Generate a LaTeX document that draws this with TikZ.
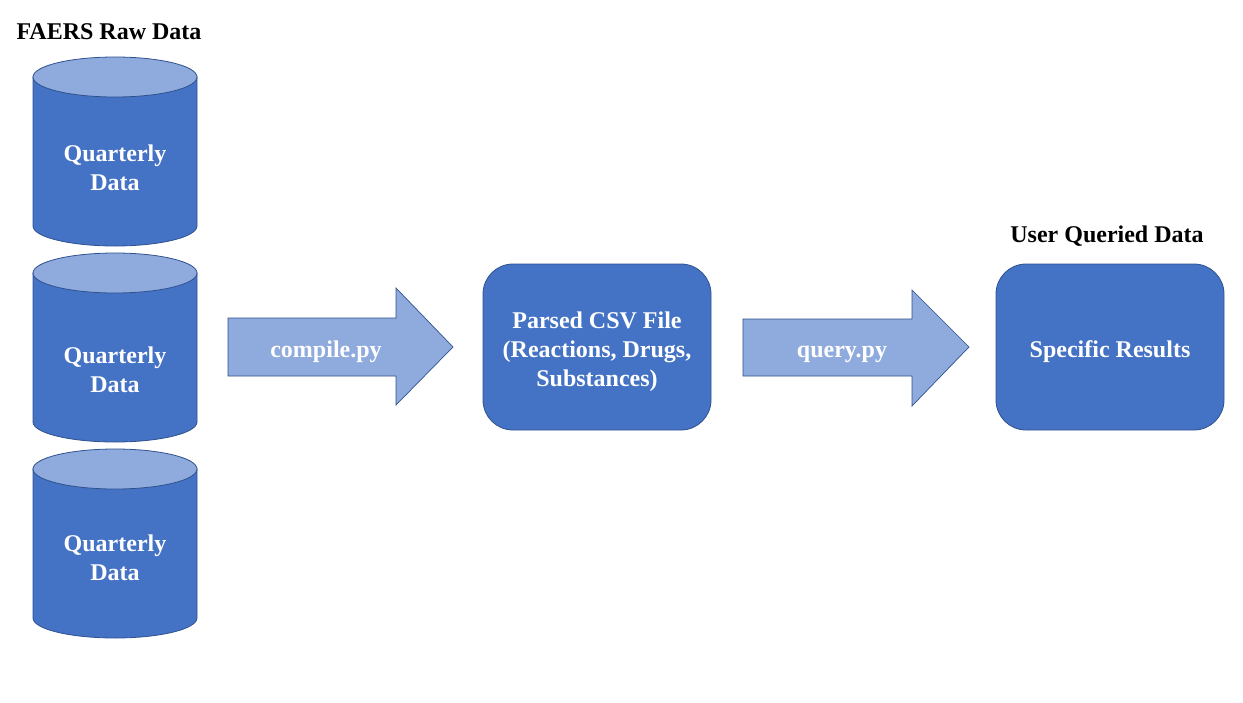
\documentclass[tikz,border=0pt]{standalone}
\usepackage{fontspec}
\setmainfont{Liberation Serif}
\definecolor{boxblue}{HTML}{4472C4}
\definecolor{lightblue}{HTML}{8FAADC}
\definecolor{edgeblue}{HTML}{2F528F}
\tikzset{
  txt/.style={font=\fontsize{24}{29}\selectfont\bfseries, text=white, align=center, inner sep=0pt},
  heading/.style={font=\fontsize{24}{29}\selectfont\bfseries, text=black, inner sep=0pt},
  cylbody/.style={fill=boxblue, draw=edgeblue, line width=0.8pt},
  cyltop/.style={fill=lightblue, draw=edgeblue, line width=0.8pt},
  blockarrow/.style={fill=lightblue, draw=edgeblue, line width=0.7pt, line join=miter},
  roundbox/.style={fill=boxblue, draw=edgeblue, line width=0.8pt, rounded corners=30pt,
     minimum width=228pt, minimum height=166pt}
}
\begin{document}
\begin{tikzpicture}[x=1pt,y=-1pt]
\useasboundingbox (0,0) rectangle (1243,702);
% headings
\node[heading] (h1) at (109,32) {FAERS Raw Data};
\node[heading] (h2) at (1107,236) {User Queried Data};
% cylinders
\foreach \ty/\cy/\nm in {77/168/q1,273/370/q2,469/558/q3}{
  \pgfmathsetmacro{\by}{\ty+149}
  \path[cylbody] (33,\ty) -- (33,\by) arc[start angle=180,end angle=360,x radius=82pt,y radius=20pt] -- (197,\ty) -- cycle;
  \path[cyltop] (115,\ty) ellipse [x radius=82pt, y radius=20pt];
  \node[txt] (\nm) at (115,\cy) {Quarterly\\Data};
}
% block arrows
\path[blockarrow] (228,318) -- (396,318) -- (396,288) -- (453,347) -- (396,405) -- (396,376) -- (228,376) -- cycle;
\node[txt] (a1) at (326,352) {compile.py};
\path[blockarrow] (743,319) -- (912,319) -- (912,290) -- (969,347) -- (912,406) -- (912,376) -- (743,376) -- cycle;
\node[txt] (a2) at (842,354) {query.py};
% boxes
\node[roundbox] (csv) at (597,347) {};
\node[txt] (csvtext) at ([yshift=-5pt]csv.center) {Parsed CSV File\\(Reactions, Drugs,\\Substances)};
\node[roundbox] (res) at (1110,347) {};
\node[txt] (restext) at ([yshift=-5pt]res.center) {Specific Results};
\end{tikzpicture}
\end{document}
